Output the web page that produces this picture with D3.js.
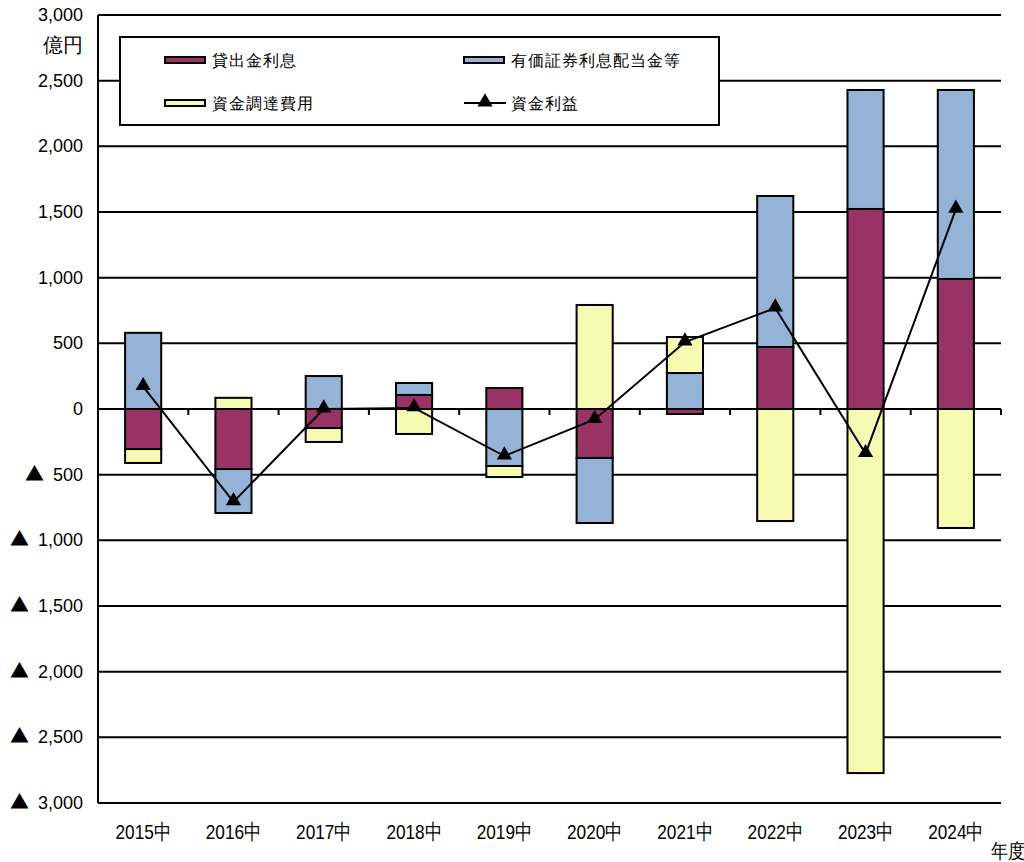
<!DOCTYPE html>
<html><head><meta charset="utf-8">
<script src="https://cdn.jsdelivr.net/npm/d3@7"></script>
<style>body{margin:0;background:#fff}svg{display:block}text{font-family:"Liberation Sans",Arial,sans-serif}</style>
</head><body><svg id="c" width="1024" height="862"></svg>
<script>
const categories = ["2015中","2016中","2017中","2018中","2019中","2020中","2021中","2022中","2023中","2024中"];
const loanInterest = [-305,-457,-145,107,160,-373,-38,472,1523,990];
const securities = [580,-335,251,91,-434,-495,274,1150,906,1439];
const fundingCost = [-106,85,-106,-190,-84,792,274,-853,-2772,-906];
const netIncome = [170,-707,0,8,-358,-80,510,769,-340,1520];
const yTicks = [3000,2500,2000,1500,1000,500,0,-500,-1000,-1500,-2000,-2500,-3000];
const seriesNames = ["貸出金利息","有価証券利息配当金等","資金調達費用","資金利益"];
const colors = ["#993366","#95B3D7","#F7FBB2"];

const svg = d3.select("#c");
const L=98,R=1001,T=15,B=803;
const x = d3.scaleBand().domain(categories).range([L,R]).paddingInner(0.6).paddingOuter(0.3);
const xb = d3.scaleBand().domain(categories).range([L,R]);
const y = d3.scaleLinear().domain([-3000,3000]).range([B,T]);

svg.append("g").selectAll("line").data(yTicks).join("line")
  .attr("x1",L).attr("x2",R).attr("y1",d=>y(d)).attr("y2",d=>y(d))
  .attr("stroke","#000").attr("stroke-width",2);
svg.append("line").attr("x1",L).attr("x2",L).attr("y1",T).attr("y2",B).attr("stroke","#000").attr("stroke-width",2);
const yl = svg.append("g").selectAll("text").data(yTicks).join("text")
  .attr("x",83).attr("y",d=>y(d)+6).attr("text-anchor","end").attr("font-size",18);
yl.each(function(d){
  const t=d3.select(this);
  if(d<0){
    t.append("tspan").attr("font-family","Noto Sans CJK JP").attr("font-size",19).text("▲");
    t.append("tspan").attr("dx",9).text(d3.format(",")(-d));
  } else t.text(d3.format(",")(d));
});
svg.append("text").attr("x",83).attr("y",52).attr("text-anchor","end").attr("font-size",20)
  .attr("font-family","Noto Sans CJK JP").text("億円");

const series=[loanInterest,securities,fundingCost];
categories.forEach((c,i)=>{
  let pos=0,neg=0;
  series.forEach((s,k)=>{
    const v=s[i]; let y0,y1;
    if(v>=0){y0=pos;y1=pos+v;pos=y1;}else{y0=neg;y1=neg+v;neg=y1;}
    svg.append("rect").attr("x",x(c)).attr("width",x.bandwidth())
      .attr("y",y(Math.max(y0,y1))).attr("height",Math.abs(y(y0)-y(y1)))
      .attr("fill",colors[k]).attr("stroke","#000").attr("stroke-width",2);
  });
});
svg.append("line").attr("x1",L).attr("x2",R).attr("y1",y(0)).attr("y2",y(0)).attr("stroke","#000").attr("stroke-width",2);
const bounds = categories.map(c=>xb(c)).concat([R]).slice(1);
svg.append("g").selectAll("line").data(bounds).join("line")
  .attr("x1",d=>d).attr("x2",d=>d).attr("y1",y(0)).attr("y2",y(0)+6).attr("stroke","#000").attr("stroke-width",2);

const cx = c=>xb(c)+xb.bandwidth()/2;
svg.append("path").datum(netIncome).attr("fill","none").attr("stroke","#000").attr("stroke-width",2)
  .attr("d",d3.line().x((d,i)=>cx(categories[i])).y(d=>y(d)));
const tri=d3.symbol().type(d3.symbolTriangle).size(100);
svg.append("g").selectAll("path").data(netIncome).join("path")
  .attr("d",tri).attr("transform",(d,i)=>`translate(${cx(categories[i])},${y(d)-1})`).attr("fill","#000");

svg.append("g").selectAll("text").data(categories).join("text")
  .attr("transform",c=>`translate(${cx(c)},839) scale(0.82,1)`).attr("text-anchor","middle")
  .attr("font-size",21).attr("font-family","Noto Sans CJK JP").text(c=>c);
svg.append("text").attr("transform","translate(1008,858) scale(0.85,1)").attr("text-anchor","middle")
  .attr("font-size",20).attr("font-family","Noto Sans CJK JP").text("年度");

const lg=svg.append("g");
lg.append("rect").attr("x",120).attr("y",37).attr("width",599).attr("height",88).attr("fill","#fff").attr("stroke","#000").attr("stroke-width",2);
const items=[{n:0,x:165,y:60},{n:1,x:464,y:60},{n:2,x:165,y:103},{n:3,x:464,y:103}];
items.forEach(it=>{
  if(it.n<3){
    lg.append("rect").attr("x",it.x).attr("y",it.y-3).attr("width",40).attr("height",6)
      .attr("fill",colors[it.n]).attr("stroke","#000").attr("stroke-width",2);
  } else {
    lg.append("line").attr("x1",it.x).attr("x2",it.x+42).attr("y1",it.y).attr("y2",it.y).attr("stroke","#000").attr("stroke-width",2);
    lg.append("path").attr("d",tri).attr("transform",`translate(${it.x+21},${it.y-1})`);
  }
  lg.append("text").attr("x",it.x+47).attr("y",it.y+6).attr("font-size",16)
    .attr("font-family","Noto Sans CJK JP").attr("letter-spacing",1).text(seriesNames[it.n]);
});
</script></body></html>
